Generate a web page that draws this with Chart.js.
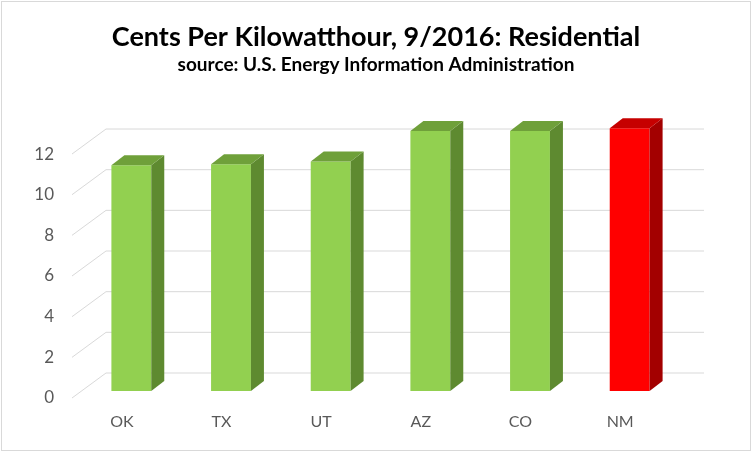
<!DOCTYPE html>
<html>
<head>
<meta charset="utf-8">
<script src="https://cdn.jsdelivr.net/npm/chart.js@4/dist/chart.umd.min.js"></script>
<style>
  html, body { margin: 0; padding: 0; background: #fff; }
  #wrap { width: 752px; height: 452px; }
</style>
</head>
<body>
<div id="wrap"><canvas id="c" width="752" height="452"></canvas></div>
<script>
// ---- data ----
const categories = ['OK', 'TX', 'UT', 'AZ', 'CO', 'NM'];
const centsPerKWh = [11.11, 11.15, 11.29, 12.79, 12.79, 12.92];
const highlightState = 'NM';
const titleText = 'Cents Per Kilowatthour, 9/2016: Residential';
const subtitleText = 'source: U.S. Energy Information Administration';

// ---- styles ----
const FONT = 'Lato, "Open Sans", sans-serif';
const frontColors = categories.map(c => c === highlightState ? '#FF0000' : '#92D050');
const topColors   = categories.map(c => c === highlightState ? '#C60000' : '#6FA03A');
const sideColors  = categories.map(c => c === highlightState ? '#A30000' : '#5E8A30');
const GRID = '#D9D9D9';
// 3D projection offsets (floor depth and bar depth)
const WALL_BACK = { dx: 24.5, dy: -18 };   // from bar plane to back wall
const WALL_FRONT = { dx: -9.5, dy: 7 };    // from bar plane to front edge
const BAR_DEPTH = { dx: 13, dy: -10 };

const threeD = {
  id: 'threeD',
  beforeDraw(chart) {
    const ctx = chart.ctx;
    ctx.save();
    ctx.fillStyle = '#fff';
    ctx.fillRect(0, 0, chart.width, chart.height);
    ctx.strokeStyle = '#D9D9D9';
    ctx.lineWidth = 1;
    ctx.strokeRect(1.5, 1.5, chart.width - 3, chart.height - 3);
    ctx.restore();
  },
  beforeDatasetsDraw(chart) {
    const ctx = chart.ctx;
    const y = chart.scales.y;
    const area = chart.chartArea;
    ctx.save();
    ctx.strokeStyle = GRID;
    ctx.lineWidth = 1;
    y.ticks.forEach(t => {
      const py = y.getPixelForValue(t.value);
      ctx.beginPath();
      ctx.moveTo(area.left + WALL_FRONT.dx, py + WALL_FRONT.dy);
      ctx.lineTo(area.left + WALL_BACK.dx, py + WALL_BACK.dy);
      ctx.lineTo(area.right + WALL_BACK.dx, py + WALL_BACK.dy);
      ctx.stroke();
    });
    ctx.restore();
  },
  afterDatasetsDraw(chart) {
    const ctx = chart.ctx;
    const meta = chart.getDatasetMeta(0);
    ctx.save();
    meta.data.forEach((bar, i) => {
      const p = bar.getProps(['x', 'y', 'width', 'base'], true);
      const l = p.x - p.width / 2, r = p.x + p.width / 2;
      // side
      ctx.fillStyle = sideColors[i];
      ctx.beginPath();
      ctx.moveTo(r, p.y);
      ctx.lineTo(r + BAR_DEPTH.dx, p.y + BAR_DEPTH.dy);
      ctx.lineTo(r + BAR_DEPTH.dx, p.base + BAR_DEPTH.dy);
      ctx.lineTo(r, p.base);
      ctx.closePath();
      ctx.fill();
      // top
      ctx.fillStyle = topColors[i];
      ctx.beginPath();
      ctx.moveTo(l, p.y);
      ctx.lineTo(l + BAR_DEPTH.dx, p.y + BAR_DEPTH.dy);
      ctx.lineTo(r + BAR_DEPTH.dx, p.y + BAR_DEPTH.dy);
      ctx.lineTo(r, p.y);
      ctx.closePath();
      ctx.fill();
    });
    ctx.restore();
  }
};

new Chart(document.getElementById('c'), {
  type: 'bar',
  data: {
    labels: categories,
    datasets: [{
      data: centsPerKWh,
      backgroundColor: frontColors,
      borderWidth: 0,
      barPercentage: 0.4,
      categoryPercentage: 1.0
    }]
  },
  plugins: [threeD],
  options: {
    responsive: false,
    animation: false,
    devicePixelRatio: 1,
    layout: { padding: 0 },
    plugins: {
      legend: { display: false },
      tooltip: { enabled: false },
      title: {
        display: true,
        text: titleText,
        color: '#000',
        font: { family: FONT, size: 27, weight: 'bold', lineHeight: 1.2 },
        padding: { top: 21, bottom: 0 }
      },
      subtitle: {
        display: true,
        text: subtitleText,
        color: '#000',
        font: { family: FONT, size: 19, weight: 'bold', lineHeight: 1.2 },
        padding: { top: 0, bottom: 50.5 }
      }
    },
    scales: {
      x: {
        grid: { display: false, drawTicks: false },
        border: { display: false },
        ticks: {
          color: '#595959',
          font: { family: FONT, size: 16 },
          padding: 21,
          labelOffset: WALL_FRONT.dx
        },
        afterFit(s) { s.height = 61; }
      },
      y: {
        min: 0,
        max: 13,
        grid: { display: false, drawTicks: false },
        border: { display: false },
        ticks: {
          stepSize: 2,
          includeBounds: false,
          color: '#595959',
          font: { family: FONT, size: 17 },
          padding: 27.5,
          labelOffset: WALL_FRONT.dy
        },
        afterFit(s) { s.width = 81.5; }
      },
      yRight: {
        position: 'right',
        min: 0,
        max: 13,
        grid: { display: false, drawTicks: false },
        border: { display: false },
        ticks: { display: false },
        afterFit(s) { s.width = 72.5; }
      }
    }
  }
});
</script>
</body>
</html>
